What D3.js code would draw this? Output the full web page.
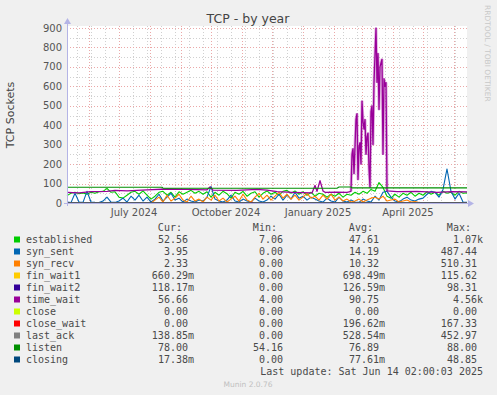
<!DOCTYPE html>
<html>
<head>
<meta charset="utf-8">
<script src="https://cdn.jsdelivr.net/npm/d3@7"></script>
<style>
  html, body { margin: 0; padding: 0; background: #f0f0f0; }
  svg { display: block; }
</style>
</head>
<body>
<div class="d3-chart"></div>
<script>
// ---- data ----
const endDate = new Date(Date.UTC(2025, 5, 14));
const spanDays = 400;
const stepDays = 4; // spacing of the sampled series below

const established = [38, 50, 55, 48, 52, 45, 55, 50, 58, 60, 75, 55, 58, 30, 25, 40, 55, 60, 45, 62,
  40, 20, 35, 55, 60, 40, 55, 30, 58, 45, 55, 65, 50, 60, 45, 58, 30, 55, 40, 60,
  48, 25, 55, 45, 60, 35, 50, 58, 30, 50, 62, 45, 55, 40, 60, 65, 50, 62, 45, 58,
  40, 55, 35, 50, 45, 30, 45, 35, 50, 30, 45, 40, 55, 45, 60, 50, 70, 60, 105, 80,
  35, 25, 45, 30, 50, 40, 55, 35, 50, 40, 58, 45, 55, 40, 60, 50, 55, 40, 60, 50, 52];

const synSent = [5, 2, 50, 5, 3, 60, 5, 3, 2, 10, 30, 5, 3, 10, 25, 5, 35, 15, 40, 10,
  30, 5, 20, 45, 10, 30, 50, 15, 25, 5, 20, 10, 5, 15, 10, 30, 85, 20, 10, 5,
  15, 40, 10, 5, 20, 10, 5, 25, 10, 5, 15, 35, 20, 45, 15, 40, 20, 55, 25, 35,
  15, 30, 20, 10, 5, 25, 10, 5, 30, 10, 5, 15, 5, 3, 20, 10, 5, 35, 15, 55,
  60, 30, 10, 5, 20, 30, 15, 10, 20, 25, 45, 60, 55, 30, 70, 175, 60, 20, 50, 5, 4];

const synRecv = [0, 0, 0, 0, 0, 0, 0, 0, 0, 0, 0, 0, 0, 0, 0, 0, 0, 0, 0, 0,
  0, 0, 15, 30, 5, 40, 10, 25, 45, 15, 5, 35, 10, 20, 5, 30, 15, 40, 10, 25,
  5, 20, 35, 10, 45, 15, 5, 30, 50, 20, 40, 15, 35, 55, 25, 45, 20, 40, 15, 30,
  50, 25, 35, 15, 40, 20, 45, 15, 30, 10, 20, 5, 10, 20, 5, 15, 25, 30, 20, 35,
  10, 15, 20, 5, 10, 15, 5, 8, 3, 0, 0, 0, 1, 0, 0, 2, 0, 0, 1, 0, 2];

// [day from start, value]
const timeWait = [[0, 55], [12, 52], [24, 58], [40, 60], [48, 65], [60, 62], [80, 68], [100, 72],
  [120, 70], [140, 68], [143, 82], [146, 66], [170, 65], [190, 70], [200, 66], [210, 58],
  [225, 55], [245, 52], [248, 90], [250, 60], [253, 115], [256, 62], [258, 55], [270, 56],
  [280, 55], [284, 60], [285, 250], [286, 280], [287, 150], [289, 430], [290, 460], [291, 120],
  [292, 290], [293, 310], [294, 200], [295, 525], [296, 420], [297, 380], [298, 430], [299, 250],
  [300, 340], [301, 360], [302, 180], [303, 80], [304, 470], [305, 500], [306, 300], [307, 620],
  [308, 760], [309, 900], [310, 620], [311, 770], [312, 480], [313, 700], [314, 720], [315, 740],
  [316, 250], [317, 640], [318, 600], [319, 620], [320, 62], [330, 58], [350, 60], [370, 55],
  [385, 58], [400, 57]];
const listen = [[0, 81], [95, 81], [96, 76], [270, 76], [272, 82], [284, 82], [285, 78], [400, 78]];
const finWait1 = [[0, 0], [400, 0.7]];
const finWait2 = [[0, 0], [400, 0.1]];
const closeSt = [[0, 0], [400, 0]];
const closeWait = [[0, 0], [183, 0], [185, 4], [187, 0], [263, 0], [265, 3], [267, 0], [400, 0]];
const lastAck = [[0, 0], [400, 0.1]];
const closing = [[0, 0], [400, 0]];

const names = ["established", "syn_sent", "syn_recv", "fin_wait1", "fin_wait2", "time_wait",
  "close", "close_wait", "last_ack", "listen", "closing"];
const colors = ["#00cc00", "#0066b3", "#ff8000", "#ffcc00", "#330099", "#990099",
  "#ccff00", "#ff0000", "#808080", "#008f00", "#00487d"];
const curVals = ["52.56", "3.95", "2.33", "660.29m", "118.17m", "56.66", "0.00", "0.00", "138.85m", "78.00", "17.38m"];
const minVals = ["7.06", "0.00", "0.00", "0.00", "0.00", "4.00", "0.00", "0.00", "0.00", "54.16", "0.00"];
const avgVals = ["47.61", "14.19", "10.32", "698.49m", "126.59m", "90.75", "0.00", "196.62m", "528.54m", "76.89", "77.61m"];
const maxVals = ["1.07k", "487.44", "510.31", "115.62", "98.31", "4.56k", "0.00", "167.33", "452.97", "88.00", "48.85"];
const yTicks = [0, 100, 200, 300, 400, 500, 600, 700, 800, 900];

// ---- chart ----
const width = 497, height = 395;
const plot = {left: 67, right: 467, top: 26, bottom: 203};
const startDate = d3.utcDay.offset(endDate, -spanDays);

const svg = d3.select(".d3-chart").append("svg")
  .attr("width", width)
  .attr("height", height)
  .style("font-family", "'DejaVu Sans', sans-serif");

svg.append("rect").attr("width", width).attr("height", height).attr("fill", "#f0f0f0");

const x = d3.scaleUtc().domain([startDate, endDate]).range([plot.left, plot.right]);
const y = d3.scaleLinear().domain([0, 900]).range([plot.bottom, 28]);

svg.append("rect")
  .attr("x", plot.left).attr("y", plot.top)
  .attr("width", plot.right - plot.left).attr("height", plot.bottom - plot.top)
  .attr("fill", "#ffffff");

const grid = svg.append("g").attr("stroke-dasharray", "1,2").attr("stroke-width", 1);

// minor grid: every two weeks / every 50
grid.selectAll("line.vmin")
  .data(d3.utcMonday.every(2).range(startDate, endDate))
  .join("line")
  .attr("x1", d => Math.round(x(d)) + 0.5).attr("x2", d => Math.round(x(d)) + 0.5)
  .attr("y1", plot.top).attr("y2", plot.bottom)
  .attr("stroke", "#d0d0d0");
grid.selectAll("line.hmin")
  .data(d3.range(50, 900, 100))
  .join("line")
  .attr("x1", plot.left).attr("x2", plot.right)
  .attr("y1", d => Math.round(y(d)) + 0.5).attr("y2", d => Math.round(y(d)) + 0.5)
  .attr("stroke", "#d0d0d0");

// major grid: months / hundreds
grid.selectAll("line.vmaj")
  .data(d3.utcMonth.range(startDate, endDate))
  .join("line")
  .attr("x1", d => Math.round(x(d)) + 0.5).attr("x2", d => Math.round(x(d)) + 0.5)
  .attr("y1", plot.top).attr("y2", plot.bottom)
  .attr("stroke", "#eba8a8");
grid.selectAll("line.hmaj")
  .data(yTicks.slice(1))
  .join("line")
  .attr("x1", plot.left).attr("x2", plot.right)
  .attr("y1", d => Math.round(y(d)) + 0.5).attr("y2", d => Math.round(y(d)) + 0.5)
  .attr("stroke", "#eba8a8");

// y tick labels
svg.append("g")
  .selectAll("text")
  .data(yTicks)
  .join("text")
  .attr("x", 62)
  .attr("y", d => y(d) + 3.5)
  .attr("text-anchor", "end")
  .attr("font-size", 10)
  .attr("fill", "#555")
  .text(d => d);

// x labels, centred in the middle of the month (every 3 months)
const fmt = d3.utcFormat("%B %Y");
svg.append("g")
  .selectAll("text")
  .data(d3.utcMonth.every(3).range(startDate, endDate).filter(d => x(d3.utcDay.offset(d, 15)) < plot.right))
  .join("text")
  .attr("x", d => x(d3.utcDay.offset(d, 15)))
  .attr("y", 216)
  .attr("text-anchor", "middle")
  .attr("font-size", 10)
  .attr("fill", "#555")
  .text(fmt);

// series
const dayToDate = d => d3.utcDay.offset(startDate, d);
const sampled = arr => arr.map((v, i) => [i * stepDays, v]);
const seriesData = [sampled(established), sampled(synSent), sampled(synRecv), finWait1, finWait2,
  timeWait, closeSt, closeWait, lastAck, listen, closing];

const line = d3.line()
  .x(d => x(dayToDate(d[0])))
  .y(d => y(Math.min(d[1], 900)));

// soft halo under the busy time_wait stretch, like the antialiased original
svg.append("path")
  .datum(timeWait.filter(d => d[0] >= 284 && d[0] <= 320))
  .attr("fill", "none")
  .attr("stroke", "#990099")
  .attr("stroke-opacity", 0.3)
  .attr("stroke-width", 3)
  .attr("d", line);

svg.append("g")
  .attr("fill", "none")
  .attr("stroke-linejoin", "round")
  .selectAll("path")
  .data(seriesData)
  .join("path")
  .attr("stroke", (d, i) => colors[i])
  .attr("stroke-width", (d, i) => names[i] === "time_wait" ? 1.3 : 1.1)
  .attr("d", line);

// axes
const axisCol = "#b4b4e6";
svg.append("line")
  .attr("x1", plot.left + 0.5).attr("x2", plot.left + 0.5)
  .attr("y1", plot.bottom + 3).attr("y2", 24)
  .attr("stroke", axisCol);
svg.append("line")
  .attr("x1", plot.left - 3).attr("x2", plot.right + 2)
  .attr("y1", plot.bottom + 0.5).attr("y2", plot.bottom + 0.5)
  .attr("stroke", axisCol);
svg.append("path")
  .attr("d", `M${plot.left - 3},24L${plot.left + 0.5},18L${plot.left + 4},24Z`)
  .attr("fill", axisCol);
svg.append("path")
  .attr("d", `M${plot.right + 1},${plot.bottom - 3}L${plot.right + 7},${plot.bottom + 0.5}L${plot.right + 1},${plot.bottom + 4}Z`)
  .attr("fill", axisCol);

// titles
svg.append("text")
  .attr("x", 248).attr("y", 23)
  .attr("text-anchor", "middle")
  .attr("font-size", 12.5)
  .attr("fill", "#444")
  .text("TCP - by year");

svg.append("text")
  .attr("transform", "translate(14,115) rotate(-90)")
  .attr("text-anchor", "middle")
  .attr("font-size", 11)
  .attr("fill", "#444")
  .text("TCP Sockets");

svg.append("text")
  .attr("transform", "translate(485,5) rotate(90)")
  .attr("font-size", 7.5)
  .attr("fill", "#c8c8c8")
  .text("RRDTOOL / TOBI OETIKER");

// legend
const legend = svg.append("g")
  .style("font-family", "'DejaVu Sans Mono', monospace")
  .attr("font-size", 10)
  .attr("fill", "#4a4a4a");

const colEnds = [194, 289, 385, 483];
const headers = ["Cur:", "Min:", "Avg:", "Max:"];
const charW = 6.02;

legend.selectAll("text.hdr")
  .data(headers)
  .join("text")
  .attr("x", (d, i) => colEnds[i] - 2 * charW)
  .attr("y", 231)
  .attr("text-anchor", "end")
  .text(d => d);

const rowY = i => 239.5 + i * 12;
const withUnit = s => /[a-z]$/i.test(s) ? s : s + "\u00a0";

const rows = legend.selectAll("g.row")
  .data(names)
  .join("g")
  .attr("transform", (d, i) => `translate(0,${rowY(i)})`);

rows.append("rect")
  .attr("x", 14).attr("y", -3)
  .attr("width", 6).attr("height", 6)
  .attr("fill", (d, i) => colors[i]);

rows.append("text")
  .attr("x", 26).attr("y", 3.5)
  .text(d => d);

[curVals, minVals, avgVals, maxVals].forEach((vals, c) => {
  rows.append("text")
    .attr("x", colEnds[c])
    .attr("y", 3.5)
    .attr("text-anchor", "end")
    .text((d, i) => withUnit(vals[i]));
});

legend.append("text")
  .attr("x", 483).attr("y", 375)
  .attr("text-anchor", "end")
  .text("Last update: Sat Jun 14 02:00:03 2025");

svg.append("text")
  .attr("x", 248).attr("y", 387)
  .attr("text-anchor", "middle")
  .attr("font-size", 7.5)
  .attr("fill", "#c0c0c0")
  .text("Munin 2.0.76");
</script>
</body>
</html>
